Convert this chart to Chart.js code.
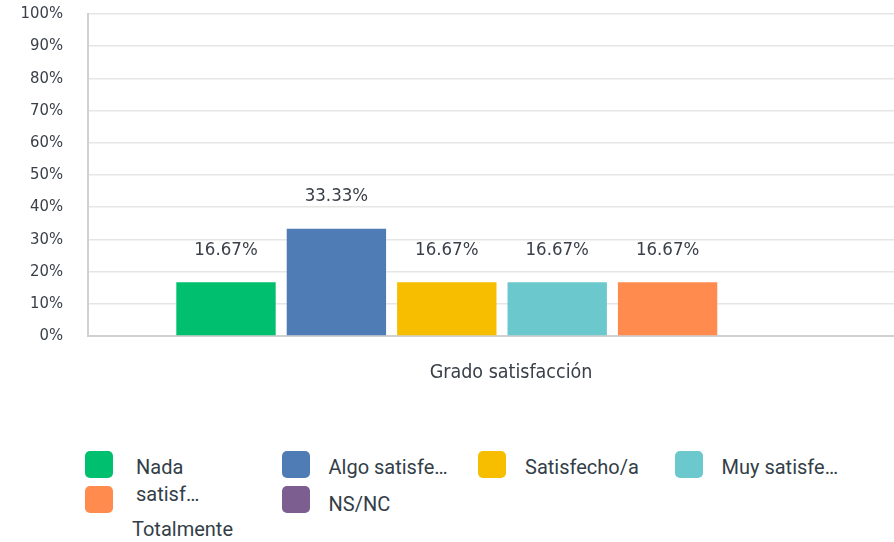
<!DOCTYPE html>
<html><head><meta charset="utf-8">
<script src="https://cdn.jsdelivr.net/npm/chart.js@4.4.1/dist/chart.umd.min.js"></script>
<style>
html,body{margin:0;padding:0;background:#fff;overflow:hidden;width:894px;height:542px;}
#wrap{position:relative;width:894px;height:542px;overflow:hidden;}
#c{position:absolute;left:0;top:0;}
.lg-box{position:absolute;width:28px;height:27px;border-radius:5px;}
.lg-txt{position:absolute;font-family:Roboto,"Liberation Sans",sans-serif;font-size:20px;line-height:27px;color:#333e48;white-space:pre;}
</style></head><body>
<div id="wrap"><canvas id="c" width="930" height="390"></canvas><div id="legend"></div></div>
<script>
const categories = ['Grado satisfacción'];
const seriesNames = ['Nada satisfecho/a','Algo satisfecho/a','Satisfecho/a','Muy satisfecho/a','Totalmente satisfecho/a','NS/NC'];
const legendLabels = ['Nada\nsatisf…','Algo satisfe…','Satisfecho/a','Muy satisfe…','Totalmente','NS/NC'];
const seriesValues = [16.67, 33.33, 16.67, 16.67, 16.67, 0];
const seriesColors = ['#00BF6F','#507CB6','#F7BE00','#6BC8CD','#FF8B4F','#7D5E90'];
const yTickValues = [0,10,20,30,40,50,60,70,80,90,100];

const FONT_FAMILY = '"DejaVu Sans Condensed", "DejaVu Sans", sans-serif';
const TEXT_COLOR = '#3a4049';

const valueLabels = {
  id:'valueLabels',
  afterDatasetsDraw(chart){
    const ctx = chart.ctx;
    ctx.save();
    ctx.font = '18.5px ' + FONT_FAMILY;
    ctx.fillStyle = TEXT_COLOR;
    ctx.textAlign = 'center';
    ctx.textBaseline = 'middle';
    chart.data.datasets.forEach((ds,i)=>{
      const meta = chart.getDatasetMeta(i);
      meta.data.forEach((bar,j)=>{
        const v = ds.data[j];
        if(!v) return;
        ctx.fillText(v.toFixed(2)+'%', bar.x, bar.y - 32);
      });
    });
    ctx.restore();
  }
};

new Chart(document.getElementById('c'), {
  type:'bar',
  data:{
    labels: categories,
    datasets: seriesNames.map((n,i)=>({label:n, data:[seriesValues[i]], backgroundColor:seriesColors[i], borderWidth:0}))
  },
  options:{
    responsive:false, animation:false, devicePixelRatio:1,
    layout:{padding:{top:14,right:14,left:0,bottom:0}},
    plugins:{legend:{display:false}, tooltip:{enabled:false}},
    datasets:{bar:{categoryPercentage:0.8, barPercentage:0.9}},
    scales:{
      x:{
        grid:{display:false, drawTicks:false},
        border:{color:'#d0d0d0', width:2},
        ticks:{font:{family:FONT_FAMILY, size:19.5}, color:TEXT_COLOR, padding:25, labelOffset:9},
        afterFit(s){ s.height = 54; s.paddingLeft = 0; s.paddingRight = 0; }
      },
      y:{
        min:0, max:100,
        afterBuildTicks(s){ s.ticks = yTickValues.map(v=>({value:v})); },
        ticks:{callback:v=>v+'%', padding:25, font:{family:FONT_FAMILY, size:16.5}, color:TEXT_COLOR},
        grid:{color:'#e6e6e6', drawTicks:false, lineWidth:1.5},
        border:{color:'#d0d0d0', width:2},
        afterFit(s){ s.width = 88; s.paddingTop = 0; s.paddingBottom = 0; }
      }
    }
  },
  plugins:[valueLabels]
});

// HTML legend built from the series arrays
const legend = document.getElementById('legend');
seriesNames.forEach((n,i)=>{
  const col = i % 4, row = Math.floor(i / 4);
  const bx = 85 + col * 196.5, by = 451 + row * 35;
  const box = document.createElement('div');
  box.className = 'lg-box';
  box.style.left = bx + 'px'; box.style.top = by + 'px';
  box.style.background = seriesColors[i];
  legend.appendChild(box);
  const t = document.createElement('div');
  t.className = 'lg-txt';
  t.textContent = legendLabels[i];
  t.style.left = (bx + (i === 0 ? 51 : 47)) + 'px';
  t.style.top = (by + (i === 4 ? 30 : 3) + (row === 1 && i !== 4 ? 2 : 0)) + 'px';
  legend.appendChild(t);
});
</script>
</body></html>
